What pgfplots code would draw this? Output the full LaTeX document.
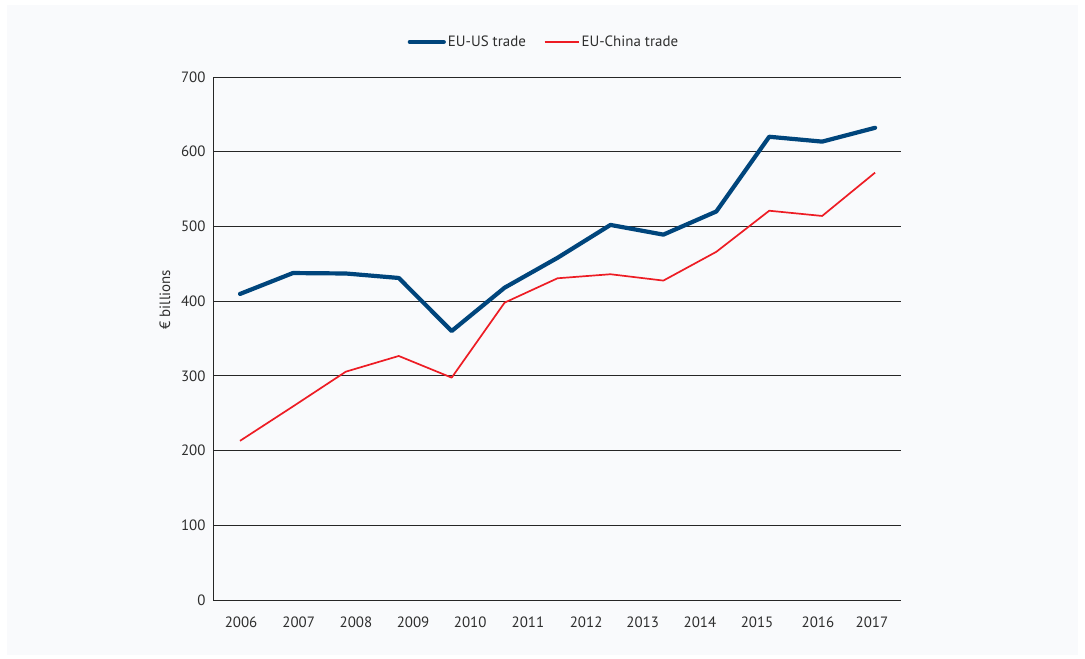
\documentclass[border=0pt]{standalone}
\usepackage{pgfplots}
\pgfplotsset{compat=1.18}
\usepackage{fontspec}
\setmainfont{PT Sans}
\definecolor{panel}{HTML}{F9FAFC}
\definecolor{usblue}{HTML}{00457C}
\definecolor{cnred}{HTML}{ED1C24}
\definecolor{txt}{HTML}{2E2E2E}

\begin{document}
\begin{tikzpicture}[x=1bp,y=1bp]
    \fill[white] (0,0) rectangle (1085,659);
    \fill[panel] (7,4) rectangle (1078,654);
    \begin{axis}[
        at={(213bp,59bp)},
        anchor=south west,
        scale only axis,
        width=688bp,
        height=523bp,
        xmin=-0.51, xmax=12.49,
        ymin=0, ymax=700,
        ytick={0,100,...,700},
        xtick={0.02,1.11,2.19,3.27,4.35,5.44,6.54,7.61,8.69,9.77,10.92,11.94},
        xticklabels={2006,2007,2008,2009,2010,2011,2012,2013,2014,2015,2016,2017},
        axis x line*=bottom,
        axis y line*=left,
        axis line style={-, black!85, line width=0.9pt},
        major tick length=0pt,
        ymajorgrids,
        grid style={black!85, line width=0.9pt},
        font=\fontsize{15}{17}\selectfont,
        tick label style={txt},
        /pgf/number format/assume math mode=true,
        yticklabel style={xshift=-4bp},
        xticklabel style={yshift=-13bp},
        ylabel={€ billions},
        ylabel style={at={(axis description cs:-0.07,0.574)}, anchor=center, txt},
        legend columns=2,
        legend style={
            at={(0.481,1.067)}, anchor=center,
            draw=none, fill=none,
            font=\fontsize{15}{17}\selectfont, text=txt,
            /tikz/every even column/.append style={column sep=16bp},
        },
        legend image code/.code={
            \draw[#1] (0bp,0bp) -- (34bp,0bp);
        },
    ]
        \addplot[usblue, line width=4.2bp, line cap=round, line join=round] coordinates {
            (0,409.6) (1,437.6) (2,437) (3,431) (4,360) (5,418) (6,458)
            (7,502) (8,489) (9,520) (10,620) (11,613.5) (12,632)
        };
        \addlegendentry{EU-US trade}
        \addplot[cnred, line width=1.7bp, line join=round] coordinates {
            (0,213) (1,259) (2,305.6) (3,326.6) (4,297.6) (5,398) (6,430.6)
            (7,436) (8,427.5) (9,466) (10,521) (11,514) (12,572)
        };
        \addlegendentry{EU-China trade}
    \end{axis}
    \pgfresetboundingbox
    \path (0,0) rectangle (1085,659);
\end{tikzpicture}
\end{document}
